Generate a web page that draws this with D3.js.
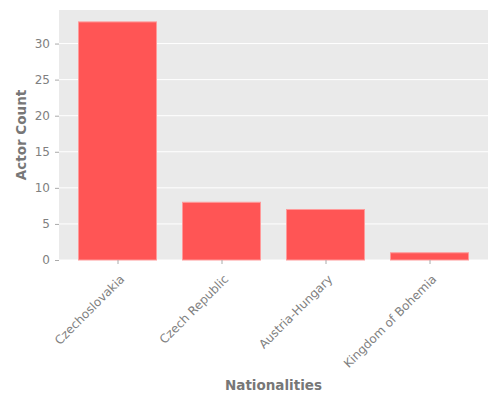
<!DOCTYPE html>
<html>
<head>
<meta charset="utf-8">
<script src="https://cdn.jsdelivr.net/npm/d3@7"></script>
<style>
  body { margin: 0; background: #fff; }
  text { font-family: "DejaVu Sans", sans-serif; }
</style>
</head>
<body>
<div id="chart"></div>
<script>
var nationalities = ["Czechoslovakia", "Czech Republic", "Austria-Hungary", "Kingdom of Bohemia"]
var actorCounts = [33, 8, 7, 1]
var yTicks = [0, 5, 10, 15, 20, 25, 30]

var margin = {top: 10, right: 12, bottom: 140, left: 59},
    width = 500 - margin.left - margin.right,
    height = 400 - margin.top - margin.bottom;

var svg = d3.select("#chart")
  .append("svg")
    .attr("width", 500)
    .attr("height", 400)
  .append("g")
    .attr("transform", "translate(" + margin.left + "," + margin.top + ")");

var barW = 0.75
var pad = (nationalities.length - 1 + barW) * 0.05
var x = d3.scaleLinear()
  .domain([-barW / 2 - pad, nationalities.length - 1 + barW / 2 + pad])
  .range([0, width]);

var y = d3.scaleLinear()
  .domain([0, d3.max(actorCounts) * 1.05])
  .range([height, 0]);

svg.append("rect")
  .attr("width", width)
  .attr("height", height)
  .attr("fill", "#eaeaea")

// grid
svg.selectAll(".grid")
  .data(yTicks)
  .enter().append("line")
  .attr("x1", 0).attr("x2", width)
  .attr("y1", function(d){ return y(d) }).attr("y2", function(d){ return y(d) })
  .attr("stroke", "#fff").attr("stroke-width", 1)

svg.selectAll(".bar")
  .data(actorCounts)
  .enter().append("rect")
  .attr("x", function(d,i){ return x(i - barW / 2) })
  .attr("width", function(){ return x(barW) - x(0) })
  .attr("y", function(d){ return y(d) })
  .attr("height", function(d){ return height - y(d) })
  .attr("fill", "#ff5555")
  .attr("stroke", "#ff9a9a")
  .attr("stroke-width", 1)

// y axis
var yAxis = svg.append("g")
  .call(d3.axisLeft(y).tickValues(yTicks).tickSize(4).tickPadding(5))
yAxis.select(".domain").remove()
yAxis.selectAll("line").attr("stroke", "#aaa")
yAxis.selectAll("text").attr("fill", "#808080").attr("font-size", 12)

// x axis
var xAxis = svg.append("g")
  .attr("transform", "translate(0," + height + ")")
  .call(d3.axisBottom(x).tickValues(d3.range(nationalities.length)).tickSize(4)
    .tickFormat(function(d){ return nationalities[d] }))
xAxis.select(".domain").remove()
xAxis.selectAll("line").attr("stroke", "#aaa")
xAxis.selectAll("text")
  .attr("fill", "#808080").attr("font-size", 12)
  .attr("text-anchor", "end")
  .attr("x", -9).attr("y", 15).attr("dy", "0.35em")
  .attr("transform", "rotate(-45)")

svg.append("text")
  .attr("text-anchor", "middle")
  .attr("x", width / 2)
  .attr("y", height + 130)
  .attr("font-size", 13.5).attr("font-weight", "bold").attr("fill", "#777")
  .text("Nationalities")

svg.append("text")
  .attr("text-anchor", "middle")
  .attr("transform", "translate(" + (-33) + "," + (height / 2) + ") rotate(-90)")
  .attr("font-size", 13.5).attr("font-weight", "bold").attr("fill", "#777")
  .text("Actor Count")
</script>
</body>
</html>
